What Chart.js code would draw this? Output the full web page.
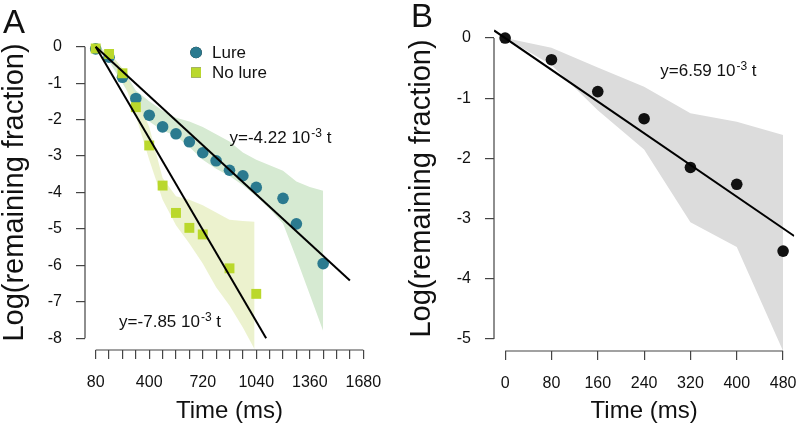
<!DOCTYPE html>
<html>
<head>
<meta charset="utf-8">
<script src="https://cdn.jsdelivr.net/npm/chart.js@4"></script>
<style>
  html, body { margin: 0; padding: 0; background: #fff; }
  #wrap { position: relative; width: 800px; height: 427px; }
  .panel { position: absolute; top: 0; width: 400px; height: 427px; }
  .tag { position: absolute; font: 33px "Liberation Sans", Arial, sans-serif; color: #111; }
</style>
</head>
<body>
<div id="wrap">
  <div class="panel" style="left:0"><canvas id="chartA" width="400" height="427"></canvas></div>
  <div class="panel" style="left:400px"><canvas id="chartB" width="400" height="427"></canvas></div>
  <div class="tag" style="left:3px;top:3px">A</div>
  <div class="tag" style="left:411px;top:-3px">B</div>
</div>
<script>
// ---- Panel A data ----
const lureTimes = [80, 160, 240, 320, 400, 480, 560, 640, 720, 800, 880, 960, 1040, 1200, 1280, 1440];
const lureValues = [-0.06, -0.29, -0.84, -1.42, -1.88, -2.2, -2.39, -2.61, -2.91, -3.13, -3.39, -3.54, -3.86, -4.16, -4.86, -5.95];
const noLureTimes = [80, 160, 240, 320, 400, 480, 560, 640, 720, 880, 1040];
const noLureValues = [-0.05, -0.2, -0.73, -1.66, -2.71, -3.81, -4.56, -4.97, -5.15, -6.08, -6.78];

const lureBandTimes = [80, 160, 240, 320, 400, 480, 560, 640, 720, 800, 880, 960, 1040, 1120, 1200, 1280, 1360, 1440];
const lureBandUpper = [0, -0.15, -0.6, -1.2, -1.5, -1.75, -1.95, -2.05, -2.2, -2.4, -2.6, -2.9, -3.1, -3.25, -3.4, -3.7, -3.85, -3.95];
const lureBandLower = [0, -0.4, -1.0, -1.6, -2.05, -2.3, -2.45, -2.75, -3.1, -3.35, -3.55, -3.8, -4.1, -4.45, -4.85, -5.8, -6.8, -7.8];

const noLureBandTimes = [80, 160, 240, 320, 400, 480, 560, 640, 720, 800, 880, 960, 1030];
const noLureBandUpper = [0, -0.15, -0.6, -1.35, -2.2, -3.6, -4.1, -4.2, -4.35, -4.55, -4.75, -4.78, -4.8];
const noLureBandLower = [0, -0.3, -0.85, -1.9, -3.1, -4.2, -4.9, -5.4, -5.95, -6.6, -7.1, -7.7, -8.3];

const lureSlope = -4.22e-3;     // per ms, from t = 80
const noLureSlope = -7.85e-3;
const lureFitEnd = 1600;
const noLureFitEnd = 1099;

const ticksA_x = [80, 160, 240, 320, 400, 480, 560, 640, 720, 800, 880, 960, 1040, 1120, 1200, 1280, 1360, 1440, 1520, 1600, 1680];
const labelsA_x = [80, 400, 720, 1040, 1360, 1680];
const ticksA_y = [0, -1, -2, -3, -4, -5, -6, -7, -8];

// ---- Panel B data ----
const timesB = [0, 80, 160, 240, 320, 400, 480];
const valuesB = [0, -0.36, -0.89, -1.34, -2.15, -2.43, -3.54];
const bandBUpper = [0, -0.16, -0.49, -0.81, -1.25, -1.39, -1.61];
const bandBLower = [0, -0.45, -1.2, -1.85, -3.06, -3.47, -5.2];
const slopeB = -6.59e-3;
const ticksB_x = [0, 80, 160, 240, 320, 400, 480];
const ticksB_y = [0, -1, -2, -3, -4, -5];

const FONT = '"Liberation Sans", Arial, Helvetica, sans-serif';
const AXIS = '#444';

const pts = (xs, ys) => xs.map((x, i) => ({ x: x, y: ys[i] }));

// R-style axis: line only from first to last tick, drawn at the plot region edge
const rAxes = {
  id: 'rAxes',
  afterDraw(chart, args, opts) {
    const { ctx, chartArea, scales } = chart;
    ctx.save();
    ctx.strokeStyle = AXIS;
    ctx.lineWidth = 1.2;
    ctx.beginPath();
    ctx.moveTo(scales.x.getPixelForValue(opts.xt[0]), chartArea.bottom);
    ctx.lineTo(scales.x.getPixelForValue(opts.xt[opts.xt.length - 1]), chartArea.bottom);
    ctx.moveTo(chartArea.left, scales.y.getPixelForValue(opts.yt[0]));
    ctx.lineTo(chartArea.left, scales.y.getPixelForValue(opts.yt[opts.yt.length - 1]));
    ctx.stroke();
    ctx.restore();
  }
};

// fitted equation text with a superscript exponent
const eqText = {
  id: 'eqText',
  afterDraw(chart, args, opts) {
    const { ctx, scales } = chart;
    ctx.save();
    ctx.fillStyle = '#111';
    ctx.textBaseline = 'alphabetic';
    (opts.items || []).forEach(it => {
      let x = scales.x.getPixelForValue(it.x);
      const y = scales.y.getPixelForValue(it.y);
      ctx.font = '17px ' + FONT;
      ctx.fillText(it.pre, x, y);
      x += ctx.measureText(it.pre).width + 1;
      ctx.font = '12px ' + FONT;
      ctx.fillText('-3', x, y - 6);
      x += ctx.measureText('-3').width;
      ctx.font = '17px ' + FONT;
      ctx.fillText(' t', x, y);
    });
    ctx.restore();
  }
};

// small legend inside panel A
const legendA = {
  id: 'legendA',
  afterDraw(chart, args, opts) {
    if (!opts.items) return;
    const { ctx, scales } = chart;
    ctx.save();
    opts.items.forEach((it, i) => {
      const ds = chart.data.datasets[it.ds];
      const x = scales.x.getPixelForValue(opts.x);
      const y = scales.y.getPixelForValue(opts.y) + i * 20;
      Chart.helpers.drawPoint(ctx, {
        pointStyle: ds.pointStyle, radius: ds.pointRadius, borderWidth: 0, rotation: 0
      }, x, y);
      ctx.fillStyle = ds.backgroundColor;
      ctx.fill();
      ctx.fillStyle = '#111';
      ctx.font = '17px ' + FONT;
      ctx.textBaseline = 'middle';
      ctx.fillText(ds.label, x + 16, y + 1);
    });
    ctx.restore();
  }
};

function scaleOpts(min, max, ticks, labelFn, titleText, isX, fitSize, titleOpts) {
  return {
    type: 'linear',
    min: min,
    max: max,
    afterBuildTicks: s => { s.ticks = ticks.map(v => ({ value: v })); },
    afterFit: s => {
      // fixed box size, no extra room for overhanging labels
      if (isX) s.height = fitSize; else s.width = fitSize;
      s.paddingLeft = 0; s.paddingRight = 0; s.paddingTop = 0; s.paddingBottom = 0;
    },
    border: { display: false },
    grid: { drawOnChartArea: false, drawTicks: true, tickLength: 9, color: AXIS, lineWidth: 1.2 },
    ticks: {
      autoSkip: false,
      maxRotation: 0,
      padding: 14,
      color: '#111',
      font: { family: FONT, size: 16 },
      callback: labelFn
    },
    title: Object.assign({
      display: true,
      text: titleText,
      color: '#111',
      font: { family: FONT, size: isX ? 24 : 29, lineHeight: 1 }
    }, titleOpts)
  };
}

const chartA = new Chart(document.getElementById('chartA'), {
  type: 'scatter',
  data: {
    datasets: [
      { label: 'Lure band', type: 'line', data: pts(lureBandTimes, lureBandUpper), fill: '+1',
        backgroundColor: 'rgba(214,234,210,1)', borderWidth: 0, pointRadius: 0, order: 6 },
      { label: 'Lure band low', type: 'line', data: pts(lureBandTimes, lureBandLower), fill: false,
        borderWidth: 0, pointRadius: 0, order: 6 },
      { label: 'No lure band', type: 'line', data: pts(noLureBandTimes, noLureBandUpper), fill: '+1',
        backgroundColor: 'rgba(230,238,190,0.75)', borderWidth: 0, pointRadius: 0, order: 5 },
      { label: 'No lure band low', type: 'line', data: pts(noLureBandTimes, noLureBandLower), fill: false,
        borderWidth: 0, pointRadius: 0, order: 5 },
      { label: 'Lure', data: pts(lureTimes, lureValues), pointStyle: 'circle', pointRadius: 5.8,
        backgroundColor: '#2b7a8f', borderWidth: 0, order: 3 },
      { label: 'No lure', data: pts(noLureTimes, noLureValues), pointStyle: 'rect', pointRadius: 7,
        backgroundColor: '#bad82c', borderWidth: 0, order: 2 },
      { label: 'Lure fit', type: 'line', data: [{ x: 80, y: 0 }, { x: lureFitEnd, y: lureSlope * (lureFitEnd - 80) }],
        borderColor: '#000', borderWidth: 2, pointRadius: 0, fill: false, order: 1 },
      { label: 'No lure fit', type: 'line', data: [{ x: 80, y: 0 }, { x: noLureFitEnd, y: noLureSlope * (noLureFitEnd - 80) }],
        borderColor: '#000', borderWidth: 2, pointRadius: 0, fill: false, order: 1 }
    ]
  },
  options: {
    responsive: false,
    animation: false,
    events: [],
    layout: { padding: { left: 0, top: 35, right: 26, bottom: 0 } },
    scales: {
      x: scaleOpts(16, 1744, ticksA_x, v => labelsA_x.includes(v) ? String(v) : '', 'Time (ms)', true, 77,
        { padding: { top: 0, bottom: 4 } }),
      y: scaleOpts(-8.32, 0.32, ticksA_y, v => String(v), 'Log(remaining fraction)', false, 85,
        { padding: { top: 0, bottom: 0 } })
    },
    plugins: {
      legend: { display: false },
      tooltip: { enabled: false },
      rAxes: { xt: ticksA_x, yt: ticksA_y },
      legendA: { x: 680, y: -0.16, items: [{ ds: 4 }, { ds: 5 }] },
      eqText: { items: [
        { x: 880, y: -2.64, pre: 'y=-4.22 10' },
        { x: 220, y: -7.7, pre: 'y=-7.85 10' }
      ] }
    }
  },
  plugins: [rAxes, eqText, legendA]
});

const chartB = new Chart(document.getElementById('chartB'), {
  type: 'scatter',
  data: {
    datasets: [
      { label: 'Band', type: 'line', data: pts(timesB, bandBUpper), fill: '+1',
        backgroundColor: '#dcdcdc', borderWidth: 0, pointRadius: 0, order: 5 },
      { label: 'Band low', type: 'line', data: pts(timesB, bandBLower), fill: false,
        borderWidth: 0, pointRadius: 0, order: 5 },
      { label: 'Data', data: pts(timesB, valuesB), pointStyle: 'circle', pointRadius: 5.8,
        backgroundColor: '#111', borderWidth: 0, order: 2 },
      { label: 'Fit', type: 'line', data: [{ x: -19.2, y: slopeB * -19.2 }, { x: 499.2, y: slopeB * 499.2 }],
        borderColor: '#000', borderWidth: 2, pointRadius: 0, fill: false, order: 1 }
    ]
  },
  options: {
    responsive: false,
    animation: false,
    events: [],
    layout: { padding: { left: 0, top: 26, right: 3, bottom: 0 } },
    scales: {
      x: scaleOpts(-19.2, 499.2, ticksB_x, v => String(v), 'Time (ms)', true, 76,
        { padding: { top: 0, bottom: 4 } }),
      y: scaleOpts(-5.2, 0.2, ticksB_y, v => String(v), 'Log(remaining fraction)', false, 94,
        { padding: { top: 7, bottom: 0 } })
    },
    plugins: {
      legend: { display: false },
      tooltip: { enabled: false },
      rAxes: { xt: ticksB_x, yt: ticksB_y },
      eqText: { items: [{ x: 268, y: -0.63, pre: 'y=6.59 10' }] }
    }
  },
  plugins: [rAxes, eqText]
});
</script>
</body>
</html>
